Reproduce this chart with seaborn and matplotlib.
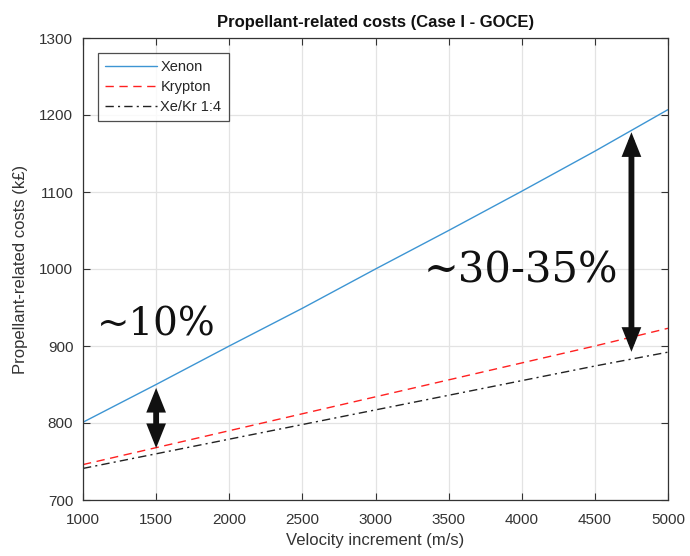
import matplotlib
matplotlib.use("Agg")
import matplotlib.pyplot as plt
import seaborn as sns
import pandas as pd

# ---- data ----
dv = [1000, 1500, 2000, 2500, 3000, 3500, 4000, 4500, 5000]
xenon = [801, 850, 900, 949, 1000, 1050, 1101, 1153, 1207]
krypton = [746, 768, 790, 812, 834, 856, 878, 900, 923]
xekr = [741, 760, 779, 798, 817, 836, 855, 874, 892]
series_names = ["Xenon", "Krypton", "Xe/Kr 1:4"]
xticks = [1000, 1500, 2000, 2500, 3000, 3500, 4000, 4500, 5000]
yticks = [700, 800, 900, 1000, 1100, 1200, 1300]
arrow_small = (1500, 851, 762)
arrow_big = (4750, 1183, 887)
label_small = "~10%"
label_big = "~30-35%"

sns.set_theme(style="white")
plt.rcParams["font.family"] = ["Liberation Sans", "DejaVu Sans"]

fig = plt.figure(figsize=(6.9, 5.56), dpi=100)
ax = fig.add_axes([83 / 690, 56 / 556, 585 / 690, 462 / 556])

df = pd.DataFrame({"dv": dv * 3,
                   "cost": xenon + krypton + xekr,
                   "series": [series_names[0]] * len(dv) + [series_names[1]] * len(dv) + [series_names[2]] * len(dv)})

styles = {
    series_names[0]: dict(color="#3d95d3", linestyle="-"),
    series_names[1]: dict(color="#ff2020", linestyle=(0, (6, 4))),
    series_names[2]: dict(color="#222222", linestyle=(0, (6, 3, 1.5, 3))),
}
for name in series_names:
    sub = df[df["series"] == name]
    sns.lineplot(data=sub, x="dv", y="cost", ax=ax, label=name, lw=1.0, **styles[name])

ax.set_xlim(1000, 5000)
ax.set_ylim(700, 1300)
ax.set_xticks(xticks)
ax.set_yticks(yticks)
ax.grid(True, color="#e3e3e3", lw=0.9)
for s in ax.spines.values():
    s.set_color("#333333")
    s.set_linewidth(0.9)
ax.tick_params(direction="in", length=5, width=0.8, colors="#333333",
               top=True, right=True, bottom=True, left=True, labelsize=11,
               labelcolor="#333333")
ax.tick_params(axis="x", pad=9)
ax.tick_params(axis="y", pad=7)

ax.set_xlabel("Velocity increment (m/s)", fontsize=12, color="#333333", labelpad=5)
ax.set_ylabel("Propellant-related costs (k£)", fontsize=12, color="#333333", labelpad=8)
ax.set_title("Propellant-related costs (Case I - GOCE)", fontsize=12, fontweight="bold",
             color="#111111", pad=8)

leg = ax.legend(loc="upper left", fontsize=10.5, frameon=True, fancybox=False,
                edgecolor="#222222", handlelength=3.6, borderaxespad=1.0,
                borderpad=0.5, labelspacing=0.42, handletextpad=0.2)
leg.get_frame().set_linewidth(0.9)

for (xa, y1, y2) in [arrow_small, arrow_big]:
    ax.annotate("", xy=(xa, y1), xytext=(xa, y2),
                arrowprops=dict(arrowstyle="<|-|>,head_length=1.0,head_width=0.4",
                                color="#111111", lw=4.2, mutation_scale=10,
                                joinstyle="miter", capstyle="butt",
                                shrinkA=3, shrinkB=3))

ax.text(1096, 914, label_small, fontsize=28, family=["DejaVu Serif"],
        ha="left", va="baseline", color="#111111")
ax.text(3330, 982, label_big, fontsize=30, family=["DejaVu Serif"],
        ha="left", va="baseline", color="#111111")

fig.savefig("out.png", dpi=100)
